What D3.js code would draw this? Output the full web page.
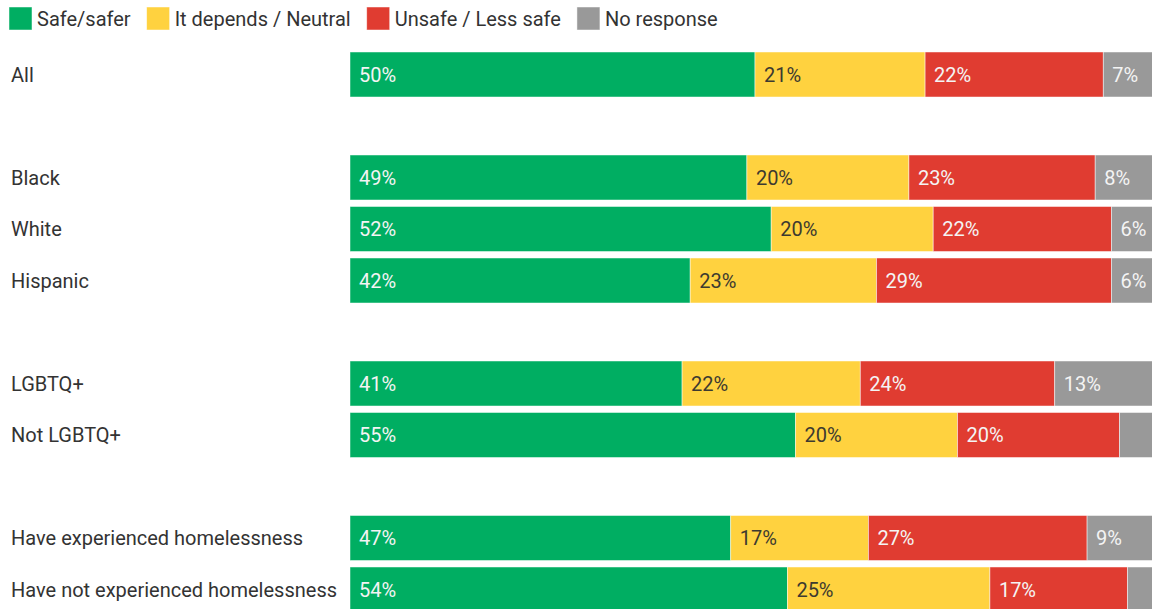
<!DOCTYPE html>
<html>
<head>
<meta charset="utf-8">
<script src="https://cdn.jsdelivr.net/npm/d3@7"></script>
<style>
    body { margin: 0; background: #fff; }
    svg { display: block; font-family: Roboto, "Noto Sans", sans-serif; }
</style>
</head>
<body>
<div id="chart"></div>
<script>
// categories, empty strings are spacer rows between groups
const groups = ['All', '', 'Black', 'White', 'Hispanic', ' ', 'LGBTQ+', 'Not LGBTQ+', '  ',
    'Have experienced homelessness', 'Have not experienced homelessness'];
const seriesNames = ['Safe/safer', 'It depends / Neutral', 'Unsafe / Less safe', 'No response'];
const safe      = [50, null, 49, 52, 42, null, 41, 55, null, 47, 54];
const neutral   = [21, null, 20, 20, 23, null, 22, 20, null, 17, 25];
const unsafe    = [22, null, 23, 22, 29, null, 24, 20, null, 27, 17];
const noResp    = [7,  null, 8,  6,  6,  null, 13, 5,  null, 9,  4];
const colors = ['#00ae62', '#ffd23f', '#e03c31', '#999999'];

const width = 1152, height = 609;
const fontSize = 20;
const rows = groups.map((g, i) => ({
    group: g, 'Safe/safer': safe[i], 'It depends / Neutral': neutral[i],
    'Unsafe / Less safe': unsafe[i], 'No response': noResp[i]
}));

const svg = d3.select('#chart').append('svg')
    .attr('width', width).attr('height', height);

// x scale runs past the right edge, like the original crop
const x = d3.scaleLinear([0, 100], [350, 1160]);
const y = d3.scaleBand(groups, [48.75, 615.25]).paddingInner(0.126).paddingOuter(0.063);
const color = d3.scaleOrdinal(seriesNames, colors);

const stacked = d3.stack().keys(seriesNames)(rows.filter(d => d.group.trim() !== ''));

// bars
const layer = svg.append('g').selectAll('g')
    .data(stacked)
    .join('g')
    .attr('fill', d => color(d.key));

layer.selectAll('rect')
    .data(d => d)
    .join('rect')
    .attr('x', d => x(d[0]))
    .attr('y', d => y(d.data.group))
    .attr('width', d => x(d[1]) - x(d[0]))
    .attr('height', y.bandwidth())
    .attr('stroke', '#fff')
    .attr('stroke-opacity', 0.6)
    .attr('stroke-width', 0.8);

// labels inside segments, skip tiny ones
layer.selectAll('text')
    .data(d => d.map(p => Object.assign(p, { key: d.key })))
    .join('text')
    .filter(d => d[1] - d[0] >= 6)
    .attr('x', d => x(d[0]) + 9)
    .attr('y', d => y(d.data.group) + y.bandwidth() / 2)
    .attr('dy', '0.35em')
    .attr('font-size', fontSize)
    .attr('fill', d => d.key === 'It depends / Neutral' ? '#3d3a30' : '#f4f4f4')
    .text(d => `${d[1] - d[0]}%`);

// category labels
svg.append('g').selectAll('text')
    .data(groups.filter(g => g.trim() !== ''))
    .join('text')
    .attr('x', 11)
    .attr('y', d => y(d) + y.bandwidth() / 2)
    .attr('dy', '0.35em')
    .attr('font-size', fontSize)
    .attr('fill', '#333')
    .text(d => d);

// legend, laid out by text width
const legend = svg.append('g').attr('transform', 'translate(9,7)');
let lx = 0;
seriesNames.forEach(name => {
    const item = legend.append('g').attr('transform', `translate(${lx},0)`);
    item.append('rect')
        .attr('width', 23).attr('height', 23)
        .attr('fill', color(name))
        .attr('stroke', '#fff').attr('stroke-opacity', 0.6).attr('stroke-width', 0.8);
    const t = item.append('text')
        .attr('x', 28).attr('y', 11.5).attr('dy', '0.35em')
        .attr('font-size', fontSize).attr('fill', '#333')
        .text(name);
    lx += 28 + t.node().getComputedTextLength() + 16;
});
</script>
</body>
</html>
